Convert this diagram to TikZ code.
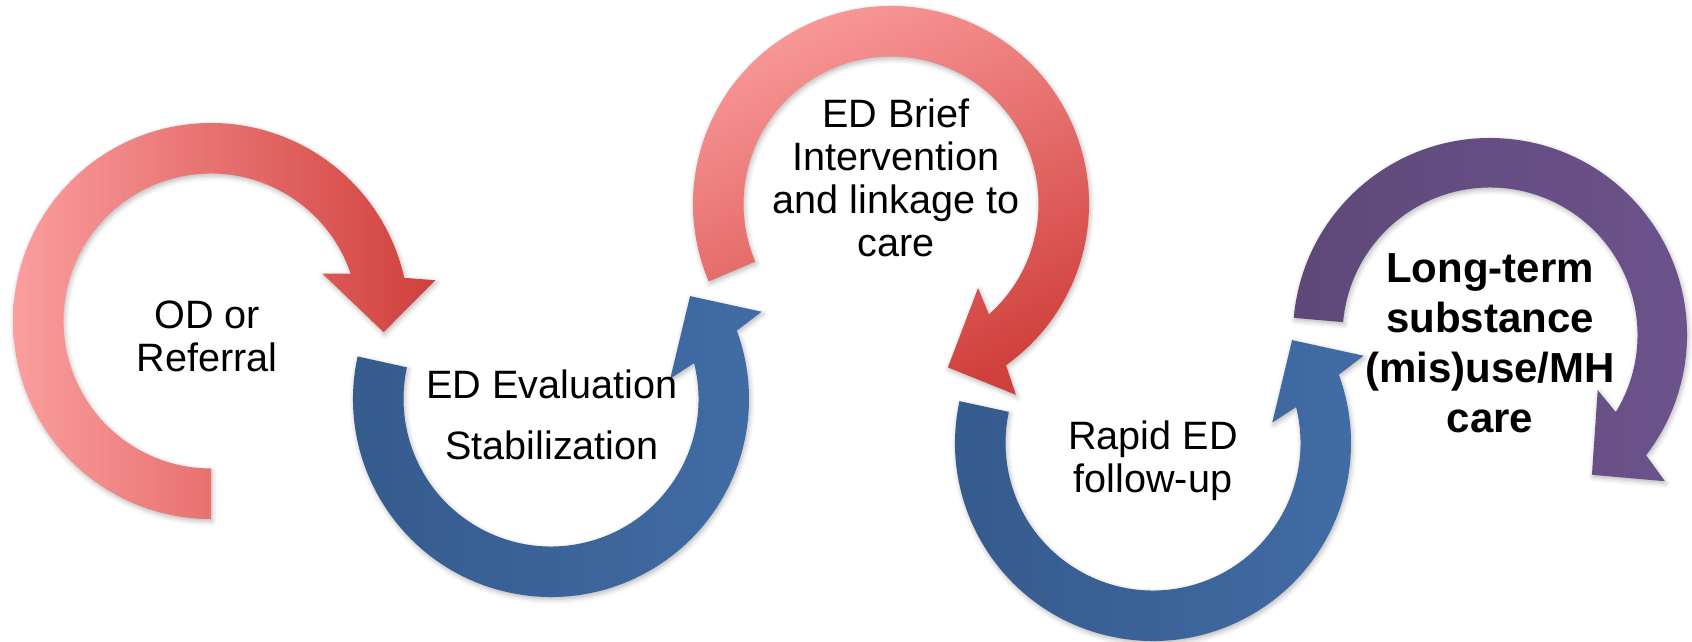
\documentclass[tikz,border=0pt]{standalone}
\usepackage{fontspec}
\setmainfont{Liberation Sans}
\usetikzlibrary{shadows.blur}

\definecolor{pinkL}{RGB}{251,158,158}
\definecolor{redD}{RGB}{208,64,60}
\definecolor{blueD}{RGB}{53,90,140}
\definecolor{blueL}{RGB}{65,108,165}
\definecolor{purpD}{RGB}{94,72,120}
\definecolor{purpL}{RGB}{108,83,140}

% circular arrow: #1 centre, #2 outer radius, #3 tail angle, #4 tip angle,
% #5 turning sign (+1 counter-clockwise, -1 clockwise), #6 fill options
\newcommand\cyclearrow[6]{%
  \pgfmathsetmacro\cycOutJ{#4-(#5)*16.3}%
  \pgfmathsetmacro\cycInJ{#4-(#5)*22.4}%
  \pgfmathsetmacro\cycOutW{#4-(#5)*14}%
  \pgfmathsetmacro\cycInW{#4-(#5)*26.8}%
  \shade[shift={#1}, ringshadow, #6]
    (#3:#2) arc[start angle=#3, end angle=\cycOutJ, radius=#2]
    -- (\cycOutW:228) -- (#4:173) -- (\cycInW:121) -- (\cycInJ:147.5)
    arc[start angle=\cycInJ, end angle=#3, radius=147.5] -- cycle;
}

\tikzset{
  ringshadow/.style={blur shadow={shadow xshift=0.6pt, shadow yshift=-1.2pt,
      shadow blur radius=2.5pt, shadow opacity=28}},
  steplabel/.style={align=center, inner sep=0pt, anchor=base,
      font=\fontsize{19.8pt}{21.5pt}\selectfont},
}

\begin{document}
\begin{tikzpicture}[x=0.5pt, y=0.5pt]
  \useasboundingbox (0,0) rectangle (1692,642);

  % the five steps of the cycle
  \cyclearrow{(211,321)}{198}{270}{-3.7}{-1}{left color=pinkL, right color=redD}
  \cyclearrow{(551,243)}{198}{167.6}{396.5}{1}{left color=blueD, right color=blueL}
  \cyclearrow{(891,438)}{198}{203}{-70.8}{-1}{top color=pinkL, bottom color=redD, shading angle=25}
  \cyclearrow{(1153,199)}{198}{167.8}{396.5}{1}{left color=blueD, right color=blueL}
  \cyclearrow{(1490,307)}{197}{175}{-53.9}{-1}{left color=purpD, right color=purpL}

  % labels (placed by the baseline of their last line)
  \node[steplabel] (od) at (207,270) {OD or\\Referral};
  \node[steplabel, font=\fontsize{19.8pt}{30.5pt}\selectfont] (eval) at (552,182)
    {ED Evaluation\\Stabilization};
  \node[steplabel] (brief) at (896,385) {ED Brief\\Intervention\\and linkage to\\care};
  \node[steplabel] (rapid) at (1153,149) {Rapid ED\\follow-up};
  \node[steplabel, font=\fontsize{21pt}{25pt}\selectfont\bfseries] (long) at (1490,209)
    {Long-term\\substance\\(mis)use/MH\\care};
\end{tikzpicture}
\end{document}
